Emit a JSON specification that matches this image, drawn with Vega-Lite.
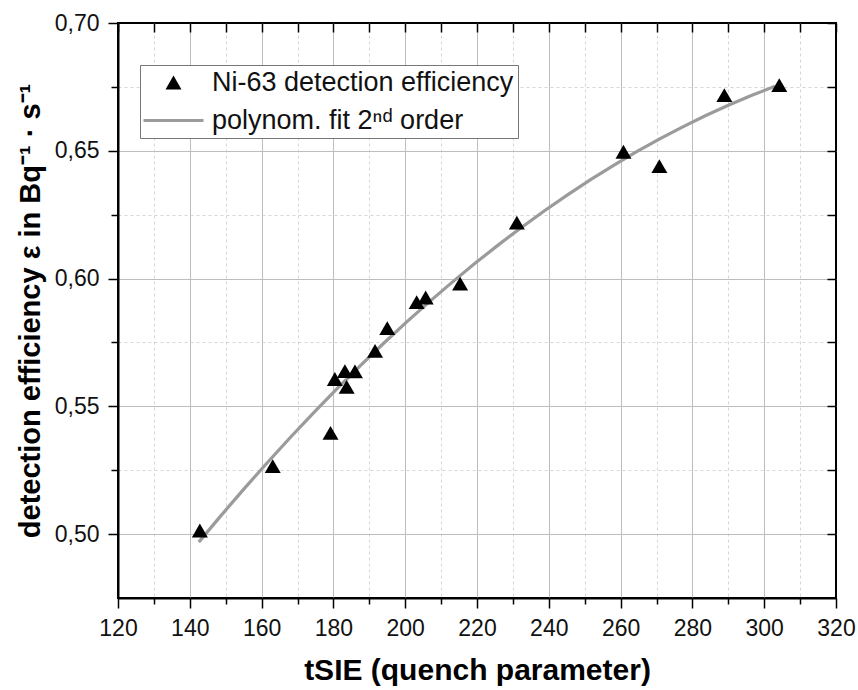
{
  "$schema": "https://vega.github.io/schema/vega-lite/v6.json",
  "width": 718,
  "height": 575,
  "autosize": "none",
  "padding": {"left": 118, "top": 23, "right": 22, "bottom": 92},
  "background": "white",
  "config": {
    "font": "Liberation Sans",
    "view": {"stroke": "#000000", "strokeWidth": 2},
    "axis": {"labelFont": "Liberation Sans", "titleFont": "Liberation Sans", "labelColor": "#111", "titleColor": "#000"}
  },
  "data": {"values": [
    {"tsie": 142.8, "eff": 0.5014},
    {"tsie": 163.1, "eff": 0.5266},
    {"tsie": 179.2, "eff": 0.5396},
    {"tsie": 180.4, "eff": 0.5607},
    {"tsie": 183.2, "eff": 0.5638},
    {"tsie": 183.7, "eff": 0.5576},
    {"tsie": 186.0, "eff": 0.5637},
    {"tsie": 191.6, "eff": 0.5717},
    {"tsie": 195.0, "eff": 0.5806},
    {"tsie": 203.2, "eff": 0.5908},
    {"tsie": 205.7, "eff": 0.5926},
    {"tsie": 215.3, "eff": 0.598},
    {"tsie": 231.1, "eff": 0.6219},
    {"tsie": 260.8, "eff": 0.6496},
    {"tsie": 270.8, "eff": 0.644},
    {"tsie": 288.9, "eff": 0.6718},
    {"tsie": 304.2, "eff": 0.6757}
  ]},
  "resolve": {"scale": {"x": "independent", "y": "independent"}, "axis": {"x": "independent", "y": "independent"}},
  "layer": [
    {
      "transform": [{"regression": "eff", "on": "tsie", "method": "poly", "order": 2, "extent": [142.5, 303]}],
      "mark": {"type": "line", "strokeWidth": 3.2, "color": "#9b9b9b", "clip": true},
      "encoding": {
        "x": {"field": "tsie", "type": "quantitative",
          "scale": {"domain": [120, 320], "nice": false, "zero": false},
          "axis": {"orient": "bottom",
            "values": [120,130,140,150,160,170,180,190,200,210,220,230,240,250,260,270,280,290,300,310,320],
            "labelExpr": "datum.value % 20 === 0 ? datum.label : ''",
            "labelFontSize": 23, "labelPadding": 9, "labelFlush": false, "labelOverlap": false,
            "grid": true,
            "gridColor": {"condition": {"test": "datum.value % 20 === 0", "value": "#bdbdbd"}, "value": "#d6d6d6"},
            "gridDash": {"condition": {"test": "datum.value % 20 === 0", "value": []}, "value": [3, 3]},
            "gridOpacity": {"condition": {"test": "datum.value === 320 || datum.value === 120", "value": 0}, "value": 1},
            "gridWidth": 1,
            "domainColor": "#000", "domainWidth": 2, "tickColor": "#000", "tickWidth": 1.5,
            "tickSize": {"condition": {"test": "datum.value % 20 === 0", "value": 10}, "value": 6},
            "title": "tSIE (quench parameter)", "titleFontSize": 30, "titleFontWeight": "bold", "titlePadding": 15}},
        "y": {"field": "eff", "type": "quantitative",
          "scale": {"domain": [0.475, 0.7], "nice": false, "zero": false},
          "axis": {"orient": "left",
            "values": [0.5,0.525,0.55,0.575,0.6,0.625,0.65,0.675,0.7],
            "labelExpr": "abs(datum.value*20 - round(datum.value*20)) < 0.001 ? replace(format(datum.value, '.2f'), '.', ',') : ''",
            "labelFontSize": 23, "labelPadding": 9, "labelFlush": false, "labelOverlap": false,
            "grid": true,
            "gridColor": {"condition": {"test": "abs(datum.value*20 - round(datum.value*20)) < 0.001", "value": "#bdbdbd"}, "value": "#d6d6d6"},
            "gridDash": {"condition": {"test": "abs(datum.value*20 - round(datum.value*20)) < 0.001", "value": []}, "value": [3, 3]},
            "gridOpacity": {"condition": {"test": "datum.value > 0.699", "value": 0}, "value": 1},
            "gridWidth": 1,
            "domainColor": "#000", "domainWidth": 2, "tickColor": "#000", "tickWidth": 1.5,
            "tickSize": {"condition": {"test": "abs(datum.value*20 - round(datum.value*20)) < 0.001", "value": 10}, "value": 7},
            "title": "detection efficiency ε in Bq⁻¹ · s⁻¹", "titleFontSize": 29, "titleFontWeight": "bold", "titlePadding": 9}}
      }
    },
    {
      "mark": {"type": "point", "filled": true, "size": 256, "opacity": 1},
      "encoding": {
        "x": {"field": "tsie", "type": "quantitative",
          "scale": {"domain": [120, 320], "nice": false, "zero": false},
          "axis": {"orient": "top", "labelOpacity": 0, "gridOpacity": 0, "title": "", "domain": false, "offset": -9,
            "values": [120,130,140,150,160,170,180,190,200,210,220,230,240,250,260,270,280,290,300,310,320],
            "ticks": true, "tickColor": "#000000", "tickOpacity": 1, "tickWidth": 1.5, "tickSize": 9}},
        "y": {"field": "eff", "type": "quantitative",
          "scale": {"domain": [0.475, 0.7], "nice": false, "zero": false},
          "axis": {"orient": "right", "labelOpacity": 0, "gridOpacity": 0, "title": "", "domain": false, "offset": -9,
            "values": [0.5,0.525,0.55,0.575,0.6,0.625,0.65,0.675,0.7],
            "ticks": true, "tickColor": "#000000", "tickOpacity": 1, "tickWidth": 1.5, "tickSize": 9}},
        "color": {"datum": "Ni-63 detection efficiency", "type": "nominal",
          "scale": {"domain": ["Ni-63 detection efficiency", "polynom. fit 2ⁿᵈ order"], "range": ["#000000", "#9b9b9b"]},
          "legend": {
            "title": null, "orient": "none", "legendX": 22, "legendY": 42,
            "labelFontSize": 27, "labelFont": "Liberation Sans", "labelColor": "#111", "labelLimit": 500,
            "symbolSize": 256, "symbolOffset": 16, "labelOffset": 25, "rowPadding": 10,
            "symbolStrokeWidth": 0,
            "padding": 4, "strokeColor": "#777", "fillColor": "white"
          }},
        "shape": {"datum": "Ni-63 detection efficiency", "type": "nominal",
          "scale": {"domain": ["Ni-63 detection efficiency", "polynom. fit 2ⁿᵈ order"], "range": ["triangle-up", "M-3.75,-0.2L3.75,-0.2L3.75,0.2L-3.75,0.2Z"]},
          "legend": {
            "title": null, "orient": "none", "legendX": 22, "legendY": 42,
            "labelFontSize": 27, "labelFont": "Liberation Sans", "labelColor": "#111", "labelLimit": 500,
            "symbolSize": 256, "symbolOffset": 16, "labelOffset": 25, "rowPadding": 10,
            "symbolStrokeWidth": 0,
            "padding": 4, "strokeColor": "#777", "fillColor": "white"
          }}
      }
    }
  ]
}
